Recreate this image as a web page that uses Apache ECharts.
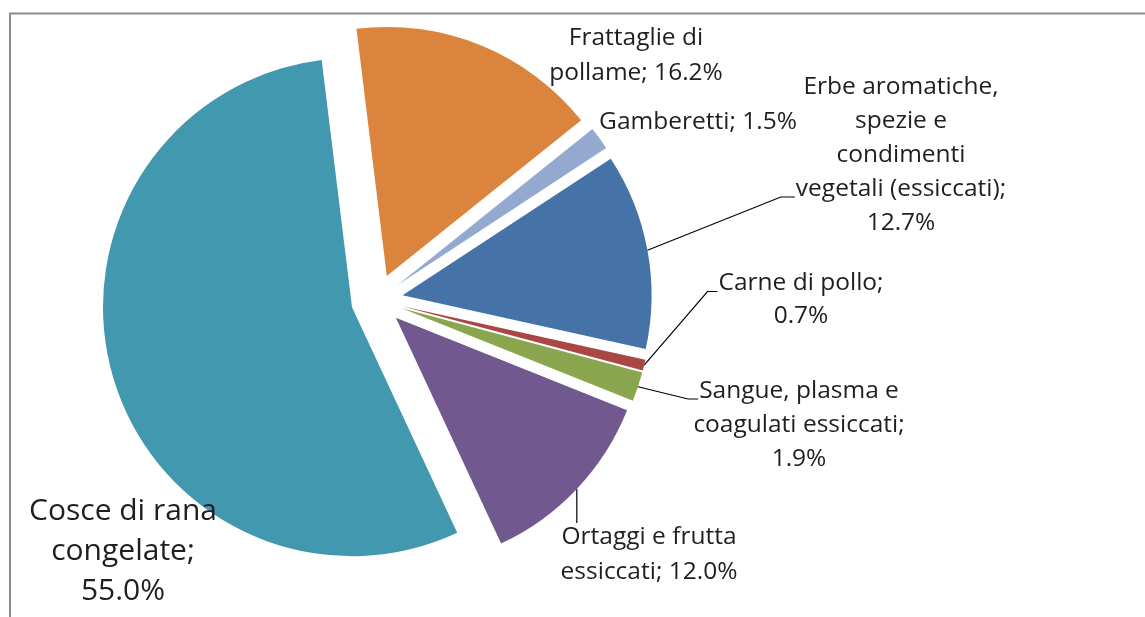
<!DOCTYPE html>
<html>
<head>
<meta charset="utf-8">
<style>
html,body{margin:0;padding:0;background:#fff;}
#chart{width:1145px;height:617px;}
</style>
<script src="https://cdn.jsdelivr.net/npm/echarts@6/dist/echarts.min.js"></script>
</head>
<body>
<div id="chart"></div>
<script>
// ---- Data ----
const categories = ['Frattaglie di\npollame', 'Gamberetti', 'Erbe aromatiche,\nspezie e\ncondimenti\nvegetali (essiccati)', 'Carne di pollo', 'Sangue, plasma e\ncoagulati essiccati', 'Ortaggi e frutta\nessiccati', 'Cosce di rana\ncongelate'];
const values = [16.2, 1.5, 12.7, 0.7, 1.9, 12.0, 55.0];
const colors = ['#DB843D', '#93A9CF', '#4572A7', '#AA4643', '#89A54E', '#71588F', '#4198AF'];
// separator between name and value in each label
const separators = [' ', ' ', '\n', '\n', '\n', ' ', '\n'];

// ---- Layout / style ----
const CX = 377, CY = 300, R = 249, START = 97, EXPLODE = 26;
const FONT = 'Open Sans';
const fontSizes = [24.5, 24.5, 24.5, 24.5, 24.5, 24.5, 30];
const lineHeights = [35, 34, 34, 33, 34, 35, 40];
const labelPos = [[636, 56], [698, 122], [901, 155], [801, 300], [799, 425], [649, 555], [123, 551]];
// leader line: null = none; {line, dy, knee} = attach to left of given text line; 'top' = vertical to top
const leaders = [null, null, {line: 3, dy: 8, knee: 14}, {line: 0, dy: 8, knee: 10}, {line: 0, dy: 8, knee: 10}, 'top', null];

function labelText(i) {
  return categories[i] + ';' + separators[i] + values[i].toFixed(1) + '%';
}
const measureCtx = document.createElement('canvas').getContext('2d');
function textWidth(str, size) {
  measureCtx.font = size + 'px "' + FONT + '"';
  return measureCtx.measureText(str).width;
}

const total = values.reduce((a, b) => a + b, 0);
let cum = 0;
const midAngles = values.map(v => {
  const m = START - (cum + v / 2) / total * 360;
  cum += v;
  return m;
});

const chart = echarts.init(document.getElementById('chart'), null, {renderer: 'canvas'});

const series = values.map((_, s) => {
  const rad = midAngles[s] * Math.PI / 180;
  const center = [CX + EXPLODE * Math.cos(rad), CY - EXPLODE * Math.sin(rad)];
  return {
    type: 'pie',
    center: center,
    radius: [0, R],
    startAngle: START,
    clockwise: true,
    avoidLabelOverlap: false,
    silent: true,
    emphasis: {disabled: true},
    z: 2,
    label: {
      show: false,
      position: 'outside',
      fontFamily: FONT,
      color: '#1f1f1f',
      align: 'center',
      formatter: p => labelText(p.dataIndex)
    },
    labelLine: {
      show: false,
      length: 10,
      length2: 12,
      lineStyle: {color: '#000000', width: 1.2}
    },
    labelLayout: function (params) {
      const i = params.dataIndex;
      const pos = labelPos[i];
      const res = {x: pos[0], y: pos[1], align: 'center', verticalAlign: 'middle'};
      const ld = leaders[i];
      if (ld) {
        const start = params.labelLinePoints ? params.labelLinePoints[0]
          : [center[0] + R * Math.cos(midAngles[i] * Math.PI / 180), center[1] - R * Math.sin(midAngles[i] * Math.PI / 180)];
        const lines = labelText(i).split('\n');
        const lh = lineHeights[i];
        const top = pos[1] - lines.length * lh / 2;
        if (ld === 'top') {
          res.labelLinePoints = [start, [start[0], top + 2], [start[0], top + 3]];
        } else {
          const w = textWidth(lines[ld.line], fontSizes[i]);
          const endX = pos[0] - w / 2 - 1;
          const endY = top + lh * ld.line + lh / 2 + ld.dy;
          res.labelLinePoints = [start, [endX - ld.knee, endY], [endX, endY]];
        }
      }
      return res;
    },
    data: values.map((v, j) => ({
      name: categories[j],
      value: v,
      itemStyle: j === s ? {color: colors[j], borderWidth: 0} : {color: 'rgba(0,0,0,0)', borderWidth: 0},
      label: j === s ? {show: true, fontSize: fontSizes[j], lineHeight: lineHeights[j]} : {show: false},
      labelLine: {show: j === s && !!leaders[j]}
    }))
  };
});

const option = {
  animation: false,
  backgroundColor: '#ffffff',
  graphic: [{
    type: 'polyline',
    shape: {points: [[10, 617], [10, 13.5], [1145, 13.5]]},
    style: {stroke: '#8c8c8c', lineWidth: 2, fill: null},
    silent: true
  }],
  series: series
};
chart.setOption(option);
</script>
</body>
</html>
